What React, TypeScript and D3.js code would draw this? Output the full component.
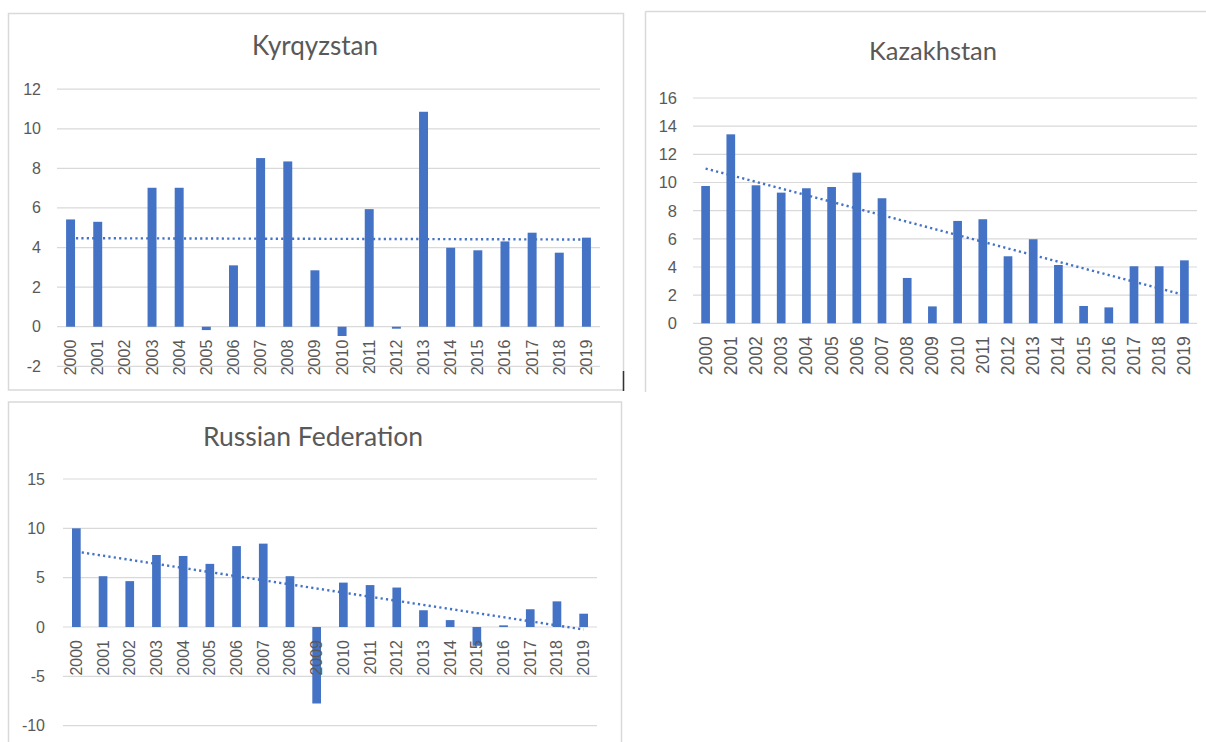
import React from 'react';
import * as d3 from 'd3';

const years = ['2000','2001','2002','2003','2004','2005','2006','2007','2008','2009','2010','2011','2012','2013','2014','2015','2016','2017','2018','2019'];
const kyrgyzstanValues = [5.42, 5.3, 0, 7.02, 7.02, -0.17, 3.1, 8.52, 8.35, 2.85, -0.47, 5.94, -0.1, 10.86, 3.99, 3.86, 4.31, 4.75, 3.74, 4.5];
const kazakhstanValues = [9.75, 13.42, 9.8, 9.28, 9.59, 9.68, 10.7, 8.88, 3.22, 1.2, 7.27, 7.39, 4.76, 5.97, 4.14, 1.23, 1.13, 4.05, 4.05, 4.47];
const russiaValues = [10.0, 5.15, 4.65, 7.3, 7.2, 6.4, 8.2, 8.45, 5.15, -7.75, 4.5, 4.25, 4.0, 1.7, 0.7, -1.9, 0.17, 1.8, 2.6, 1.35];
const kyrgyzstanTicks = [-2, 0, 2, 4, 6, 8, 10, 12];
const kazakhstanTicks = [0, 2, 4, 6, 8, 10, 12, 14, 16];
const russiaTicks = [-10, -5, 0, 5, 10, 15];

const BAR = '#4472c4';
const TEXT = '#595959';
const GRID = '#d9d9d9';
const BORDER = '#d9d9d9';

function regression(vals: number[]) {
  const n = vals.length;
  const xm = (n - 1) / 2;
  const ym = d3.mean(vals) as number;
  let sxy = 0, sxx = 0;
  vals.forEach((v, i) => { sxy += (i - xm) * (v - ym); sxx += (i - xm) * (i - xm); });
  const b = sxy / sxx;
  return (i: number) => ym + b * (i - xm);
}

type PanelProps = {
  title: string;
  values: number[];
  ticks: number[];
  x0: number; x1: number;
  yMinPx: number; yMaxPx: number;
  titleX: number; titleY: number; titleSize: number;
  yLabelRight: number;
  yLabelSize: number;
  xLabelSize: number;
  padding: number;
};

function Panel(p: PanelProps) {
  const y = d3.scaleLinear().domain([p.ticks[0], p.ticks[p.ticks.length - 1]]).range([p.yMinPx, p.yMaxPx]);
  const x = d3.scaleBand<string>().domain(years).range([p.x0, p.x1]).paddingInner(p.padding).paddingOuter(p.padding / 2);
  const bw = x.bandwidth();
  const cx = (yr: string) => (x(yr) as number) + bw / 2;
  const trend = regression(p.values);
  const ends = [0, years.length - 1];
  const trendPath = d3.line<number>().x((i) => cx(years[i])).y((i) => y(trend(i)))(ends) as string;
  const zero = y(0);
  return (
    <g>
      <text x={p.titleX} y={p.titleY} textAnchor="middle" fill={TEXT} fontFamily="Lato, 'Open Sans', sans-serif" fontSize={p.titleSize}>{p.title}</text>
      {p.ticks.map((t) => (
        <g key={t}>
          <line x1={p.x0} x2={p.x1} y1={y(t)} y2={y(t)} stroke={GRID} strokeWidth={1.2} />
          <text x={p.yLabelRight} y={y(t)} textAnchor="end" dominantBaseline="central" fill={TEXT} fontFamily="'Liberation Sans', Arial, sans-serif" fontSize={p.yLabelSize}>{t}</text>
        </g>
      ))}
      {p.values.map((v, i) => (
        <rect key={i} x={x(years[i])} width={bw} y={Math.min(y(v), zero)} height={Math.abs(y(v) - zero)} fill={BAR} />
      ))}
      <path d={trendPath} fill="none" stroke={BAR} strokeWidth={2.4} strokeDasharray="2.2 3.2" />
      {years.map((yr) => (
        <text key={yr} transform={`translate(${cx(yr)},${zero + 13}) rotate(-90)`} textAnchor="end" dominantBaseline="central" fill={TEXT} fontFamily="'Liberation Sans', Arial, sans-serif" fontSize={p.xLabelSize}>{yr}</text>
      ))}
    </g>
  );
}

export default function App() {
  return (
    <div style={{ position: 'fixed', left: 0, top: 0 }}>
      <svg width={1206} height={742} style={{ display: 'block', background: '#fff' }}>
        <rect x={0} y={0} width={1206} height={742} fill="#fff" />
        <rect x={8.5} y={13.5} width={615} height={376.5} fill="#fff" stroke={BORDER} strokeWidth={1.5} />
        <line x1={645.5} y1={11.5} x2={1210} y2={11.5} stroke={BORDER} strokeWidth={1.5} />
        <line x1={645.5} y1={11.5} x2={645.5} y2={392} stroke={BORDER} strokeWidth={1.5} />
        <rect x={8.5} y={402} width={613} height={400} fill="#fff" stroke={BORDER} strokeWidth={1.5} />
        <line x1={623.5} y1={371} x2={623.5} y2={391} stroke="#333" strokeWidth={1.5} />
        <Panel title="Kyrqyzstan" values={kyrgyzstanValues} ticks={kyrgyzstanTicks}
          x0={57} x1={600} yMinPx={366.3} yMaxPx={89.2}
          titleX={315} titleY={55} titleSize={26} yLabelRight={41} yLabelSize={16} xLabelSize={16} padding={0.67} />
        <Panel title="Kazakhstan" values={kazakhstanValues} ticks={kazakhstanTicks}
          x0={693} x1={1197} yMinPx={323.3} yMaxPx={98}
          titleX={933} titleY={60} titleSize={25.5} yLabelRight={677} yLabelSize={16.5} xLabelSize={17.5} padding={0.655} />
        <Panel title="Russian Federation" values={russiaValues} ticks={russiaTicks}
          x0={63} x1={597} yMinPx={725.7} yMaxPx={479}
          titleX={313} titleY={445.5} titleSize={26.5} yLabelRight={45} yLabelSize={16} xLabelSize={16} padding={0.675} />
      </svg>
    </div>
  );
}
